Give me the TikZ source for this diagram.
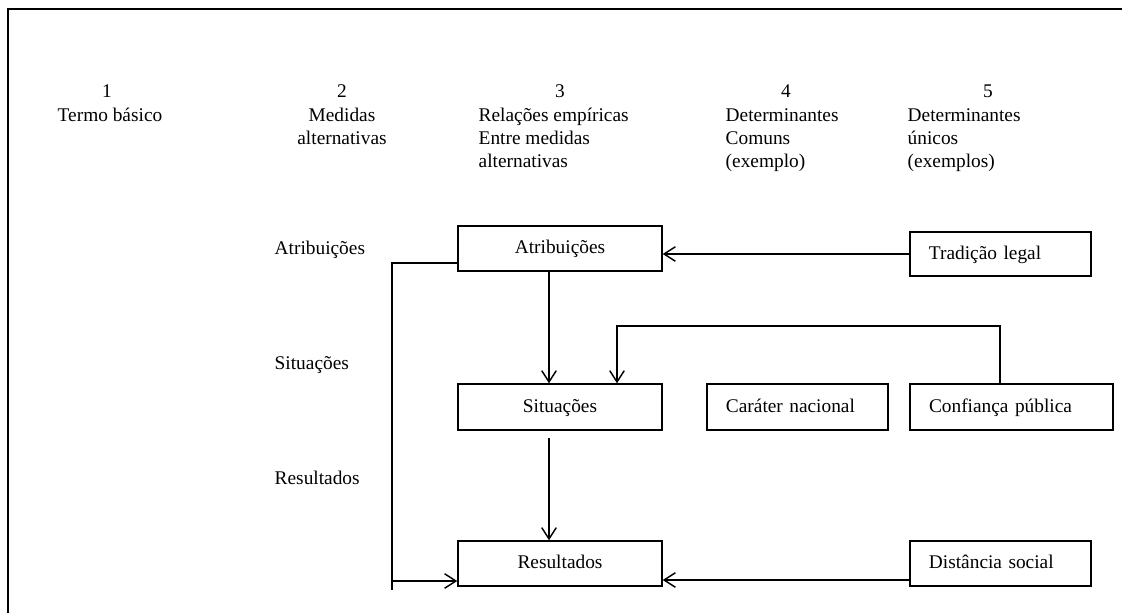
\documentclass[tikz,border=0pt]{standalone}
\usepackage{fontspec}
\setmainfont{Liberation Serif}
\usetikzlibrary{arrows.meta,calc}
\begin{document}
\begin{tikzpicture}[x=0.62pt,y=-0.62pt,
  font=\fontsize{12pt}{14.4pt}\selectfont,
  line width=0.9pt,
  arr/.style={-{Straight Barb[length=7pt,width=9pt]}},
  lbl/.style={inner sep=0pt, anchor=base},
  lbll/.style={inner sep=0pt, anchor=base west},
  box/.style={draw, inner ysep=0pt, inner xsep=0pt, text height=0.85em, text depth=0.2em},
  lbox/.style={box, align=left, inner xsep=11.8pt}]
\useasboundingbox (0,0) rectangle (1122,613);

% frame
\coordinate (fa) at (8,613);
\coordinate (fb) at (8,9);
\coordinate (fc) at (1122,9);
\draw (fa) -- (fb) -- (fc);

% header
\node[lbl] (h1) at (107,97) {1};
\node[lbl] (h1a) at (110,121) {Termo básico};
\node[lbl] (h2) at (342,97) {2};
\node[lbl] (h2a) at (342,121) {Medidas};
\node[lbl] (h2b) at (342,144) {alternativas};
\node[lbl] (h3) at (560,97) {3};
\node[lbll] (h3a) at (478,121) {Relações empíricas};
\node[lbll] (h3b) at (478,144) {Entre medidas};
\node[lbll] (h3c) at (478,167) {alternativas};
\node[lbl] (h4) at (786,97) {4};
\node[lbll] (h4a) at (725,121) {Determinantes};
\node[lbll] (h4b) at (725,144) {Comuns};
\node[lbll] (h4c) at (725,167) {(exemplo)};
\node[lbl] (h5) at (988,97) {5};
\node[lbll] (h5a) at (907,121) {Determinantes};
\node[lbll] (h5b) at (907,144) {únicos};
\node[lbll] (h5c) at (907,167) {(exemplos)};

% row labels
\node[lbll] (l1) at (274,254) {Atribuições};
\node[lbll] (l2) at (274,369) {Situações};
\node[lbll] (l3) at (274,484) {Resultados};

% boxes
\node[box, minimum width=126.5pt, minimum height=27.9pt] (atri) at (560,248.5) {Atribuições};
\node[box, minimum width=126.5pt, minimum height=28.5pt] (sit) at (560,407) {Situações};
\node[box, minimum width=126.5pt, minimum height=27.9pt] (res) at (560,563.5) {Resultados};
\node[lbox, text width=88.7pt, minimum height=27.3pt] (trad) at (1000.5,254) {Tradição legal};
\node[lbox, text width=88.7pt, minimum height=28.5pt] (car) at (797.5,407) {Caráter nacional};
\node[lbox, text width=102.3pt, minimum height=28.5pt] (conf) at (1011.5,407) {Confiança pública};
\node[lbox, text width=88.7pt, minimum height=27.9pt] (dist) at (1000.5,563.5) {Distância social};

% connector helpers
\coordinate (c1) at (549,0);
\coordinate (c2) at (1000,326);
\coordinate (c3) at (617,326);
\coordinate (c4) at (549,438);
\coordinate (c5) at (0,580);
\coordinate (c6) at (392,263);
\coordinate (c7) at (392,590);
\coordinate (c8) at (392,581);

% connectors
\draw[arr] (trad.west) -- (trad.west -| atri.east);
\draw[arr] (atri.south -| c1) -- (sit.north -| c1);
\draw[arr] (c4) -- (res.north -| c4);
\draw[arr] (conf.north -| c2) -- (c2) -- (c3) -- (sit.north -| c3);
\draw (atri.west |- c6) -- (c6) -- (c7);
\draw[arr] (c8) -- (res.west |- c8);
\draw[arr] (dist.west |- c5) -- (res.east |- c5);
\end{tikzpicture}
\end{document}
